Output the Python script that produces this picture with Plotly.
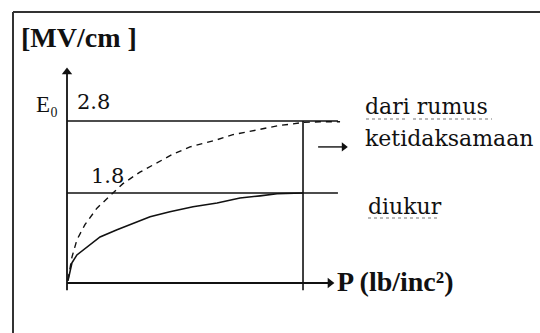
import plotly.graph_objects as go

# Breakdown field strength E0 [MV/cm] versus pressure P (schematic curves)
p_formula = [0.04, 0.21, 0.42, 0.76, 1.27, 1.82, 2.37, 3.09, 3.81, 4.49, 5.21,
             6.36, 7.03, 7.63, 8.31, 9.03, 9.58, 10.0, 10.72, 11.57]
e_formula = [0.59, 0.91, 1.15, 1.36, 1.59, 1.76, 1.93, 2.09, 2.22, 2.34, 2.44,
             2.54, 2.61, 2.65, 2.70, 2.74, 2.76, 2.78, 2.79, 2.79]

p_measured = [0.04, 0.21, 0.42, 0.85, 1.40, 2.12, 2.80, 3.52, 4.36, 5.34,
              6.36, 7.33, 8.18, 8.90, 10.0]
e_measured = [0.58, 0.83, 0.94, 1.05, 1.19, 1.29, 1.38, 1.47, 1.54, 1.61,
              1.66, 1.73, 1.76, 1.79, 1.80]

ref_levels = [2.8, 1.8]          # reference levels of E0
ref_labels = ["2.8", "1.8"]
p_limit = 10.0                   # pressure where the vertical marker sits
e_axis = 0.55                    # E0 value where the P axis is drawn
e_axis_top = 3.54                # tip of the E0 axis arrow
e_below = 0.45                   # lower end of vertical lines
p_line_end = 11.48               # right end of the reference lines
p_axis_tip = 11.36               # tip of the P axis arrow
pointer_p = [10.64, 11.95]       # pointer towards "ketidaksamaan"
pointer_e = 2.44

INK = "#111111"

fig = go.Figure()


def line_trace(xs, ys, width=1.6, dash=None):
    fig.add_trace(go.Scatter(x=xs, y=ys, mode="lines",
                             line=dict(color=INK, width=width, dash=dash),
                             hoverinfo="skip", showlegend=False))


def head(x, y, symbol, size=9):
    fig.add_trace(go.Scatter(x=[x], y=[y], mode="markers",
                             marker=dict(symbol=symbol, size=size, color=INK),
                             hoverinfo="skip", showlegend=False))


# formula curve (dashed) and measured curve (solid)
line_trace(p_formula, e_formula, width=1.4, dash="6px,5px")
line_trace(p_measured, e_measured, width=1.6)

# horizontal reference lines
for lvl in ref_levels:
    line_trace([0, p_line_end], [lvl, lvl])

# vertical marker at p_limit
line_trace([p_limit, p_limit], [ref_levels[0], e_below])

# axes with arrow heads
line_trace([0, 0], [e_below, e_axis_top - 0.05], width=1.8)
head(0, e_axis_top - 0.06, "triangle-up", 9)
line_trace([0, p_axis_tip - 0.2], [e_axis, e_axis], width=1.8)
head(p_axis_tip - 0.22, e_axis, "triangle-right", 9)
line_trace([pointer_p[0], pointer_p[1] - 0.2], [pointer_e, pointer_e], width=1.4)
head(pointer_p[1] - 0.22, pointer_e, "triangle-right", 8)

W, H = 540, 333


def px(x):
    return x / W


def py(y):
    return 1 - y / H


serif = "Liberation Serif"
wide = "DejaVu Serif"

# (text, left px, centre px, family, size, weight)
texts = [
    ("[MV/cm ]", 19, 37, serif, 28, "bold"),
    ("E₀", 34, 104, serif, 23, "normal"),
    (ref_labels[0], 75, 102, wide, 21, "normal"),
    (ref_labels[1], 89, 176, wide, 21, "normal"),
    ("dari rumus", 363, 107, wide, 22, "normal"),
    ("ketidaksamaan", 363, 138, wide, 22, "normal"),
    ("diukur", 366, 206, wide, 22, "normal"),
    ("P (lb/inc²)", 335, 281, serif, 28, "bold"),
]
for txt, x, y, fam, size, weight in texts:
    fig.add_annotation(x=px(x), y=py(y), xref="paper", yref="paper",
                       text=txt, showarrow=False, xanchor="left",
                       yanchor="middle",
                       font=dict(family=fam, size=size, color=INK,
                                 weight=weight))

# wavy spell-check underlines
for x0, x1, y in [(366, 407, 119), (413, 492, 119), (368, 437, 218)]:
    fig.add_shape(type="line", xref="paper", yref="paper", x0=px(x0),
                  x1=px(x1), y0=py(y), y1=py(y),
                  line=dict(color="#777777", width=1.2, dash="dot"))

# outer frame (top and left edges)
fig.add_shape(type="line", xref="paper", yref="paper", x0=px(13), x1=1,
              y0=py(12), y1=py(12), line=dict(color="#333333", width=2))
fig.add_shape(type="line", xref="paper", yref="paper", x0=px(13), x1=px(13),
              y0=0, y1=py(12), line=dict(color="#333333", width=2))

fig.update_layout(
    width=W, height=H, margin=dict(l=0, r=0, t=0, b=0),
    paper_bgcolor="white", plot_bgcolor="white",
    xaxis=dict(range=[-2.839, 20.042], visible=False, fixedrange=True),
    yaxis=dict(range=[-0.1444, 4.4806], visible=False, fixedrange=True),
)

fig.write_html("out.html")
